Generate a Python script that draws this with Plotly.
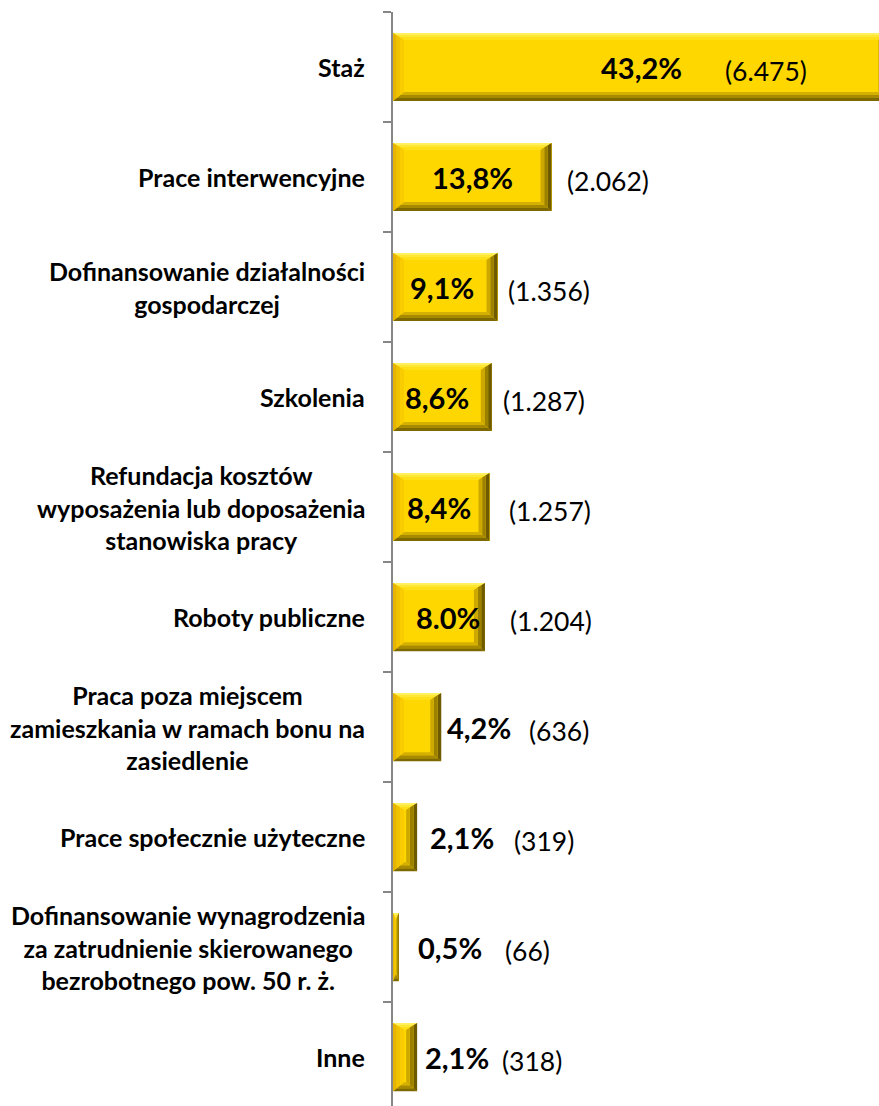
import plotly.graph_objects as go

# ---- data ----
categories = [
    "Staż",
    "Prace interwencyjne",
    "Dofinansowanie działalności<br>gospodarczej",
    "Szkolenia",
    "Refundacja kosztów<br>wyposażenia lub doposażenia<br>stanowiska pracy",
    "Roboty publiczne",
    "Praca poza miejscem<br>zamieszkania w ramach bonu na<br>zasiedlenie",
    "Prace społecznie użyteczne",
    "Dofinansowanie wynagrodzenia<br>za zatrudnienie skierowanego<br>bezrobotnego pow. 50 r. ż.",
    "Inne",
]
percent = [43.2, 13.8, 9.1, 8.6, 8.4, 8.0, 4.2, 2.1, 0.5, 2.1]
percent_labels = ["43,2%", "13,8%", "9,1%", "8,6%", "8,4%", "8.0%", "4,2%", "2,1%", "0,5%", "2,1%"]
counts = [6475, 2062, 1356, 1287, 1257, 1204, 636, 319, 66, 318]

# ---- style / layout parameters ----
W, H = 879, 1106
ML, MT = 393, 12
XMAX = 42.3
YBOT = 9.445
BAR_W = 0.62
plot_w = W - ML
plot_h = H - MT
px_x = plot_w / XMAX
px_y = plot_h / (YBOT + 0.5)

pct_inside = [True, True, True, True, True, True, False, False, False, False]
pct_shift = [0, 0, -3, -5, -2, 9, 4, 11, 17, 6]
count_shift = [-166, 13, 8, 9, 17, 23, 86, 95, 104, 83]

FACE = "#FFD700"
TOP_C = ["#FFF060", "#FFE838", "#FFDF18"]
LEFT_C = ["#E6B400", "#F0C200", "#F8CC00"]
BOTTOM_C = ["#7E6800", "#A88A00", "#D4B000"]
RIGHT_C = ["#6E5A00", "#9C8000", "#CCA800"]
BEVEL_X_PX = 11
BEVEL_TOP_PX = 7
BEVEL_BOT_PX = 9

pos = list(range(len(categories)))

def fmt_count(n):
    return "(" + f"{n:,}".replace(",", ".") + ")"

fig = go.Figure()
fig.add_trace(go.Bar(
    x=percent, y=pos, orientation="h", width=BAR_W,
    marker=dict(color=FACE, line=dict(width=0)),
    hoverinfo="skip", showlegend=False,
))

shapes = []
nb = 3
for v, p in zip(percent, pos):
    y0 = p - BAR_W / 2
    y1 = p + BAR_W / 2
    bx = min(BEVEL_X_PX / px_x, v / 2)
    bt = BEVEL_TOP_PX / px_y
    bb = BEVEL_BOT_PX / px_y
    for k in range(nb):
        a, b = k / nb, (k + 1) / nb
        polys = [
            (TOP_C[k], [(a * bx, y0 + a * bt), (v - a * bx, y0 + a * bt),
                        (v - b * bx, y0 + b * bt), (b * bx, y0 + b * bt)]),
            (BOTTOM_C[k], [(a * bx, y1 - a * bb), (v - a * bx, y1 - a * bb),
                           (v - b * bx, y1 - b * bb), (b * bx, y1 - b * bb)]),
            (LEFT_C[k], [(a * bx, y0 + a * bt), (b * bx, y0 + b * bt),
                         (b * bx, y1 - b * bb), (a * bx, y1 - a * bb)]),
            (RIGHT_C[k], [(v - a * bx, y0 + a * bt), (v - b * bx, y0 + b * bt),
                          (v - b * bx, y1 - b * bb), (v - a * bx, y1 - a * bb)]),
        ]
        for col, pts in polys:
            path = "M " + " L ".join(f"{x_},{y_}" for x_, y_ in pts) + " Z"
            shapes.append(dict(type="path", path=path, xref="x", yref="y",
                               fillcolor=col, line=dict(width=0), layer="above"))

annotations = []
for cat, p in zip(categories, pos):
    annotations.append(dict(
        text="<b>" + cat + "</b>", xref="paper", x=0, xshift=-26, xanchor="right",
        yref="y", y=p, yanchor="middle", align="center", showarrow=False,
        font=dict(family="Lato", size=25, color="black"),
    ))

for v, p, lab, inside, sh in zip(percent, pos, percent_labels, pct_inside, pct_shift):
    annotations.append(dict(
        text="<b>" + lab + "</b>", xref="paper",
        x=(v / 2) / XMAX if inside else v / XMAX,
        xanchor="center" if inside else "left",
        xshift=sh, yref="y", y=p, yanchor="middle", showarrow=False,
        font=dict(family="Lato", size=29, color="black"),
    ))

for v, p, n, sh in zip(percent, pos, counts, count_shift):
    annotations.append(dict(
        text=fmt_count(n), xref="paper", x=v / XMAX, xanchor="left",
        xshift=sh, yshift=-4, yref="y", y=p, yanchor="middle", showarrow=False,
        font=dict(family="Lato", size=26.5, color="black"),
    ))

fig.update_layout(
    width=W, height=H,
    margin=dict(l=ML, r=0, t=MT, b=0, pad=0),
    paper_bgcolor="white", plot_bgcolor="white",
    xaxis=dict(range=[0, XMAX], visible=False, fixedrange=True),
    yaxis=dict(
        range=[YBOT, -0.5], showgrid=False, zeroline=False, fixedrange=True,
        showline=True, linecolor="#868686", linewidth=1.5,
        ticks="outside", ticklen=8, tickwidth=1.5, tickcolor="#868686",
        tickvals=[i - 0.5 for i in range(len(categories) + 1)],
        showticklabels=False,
    ),
    shapes=shapes,
    annotations=annotations,
    bargap=0,
)

fig.write_html(
    "out.html",
    config={"displayModeBar": False},
    post_script="document.body.style.margin='0';document.body.style.overflow='hidden';",
)
